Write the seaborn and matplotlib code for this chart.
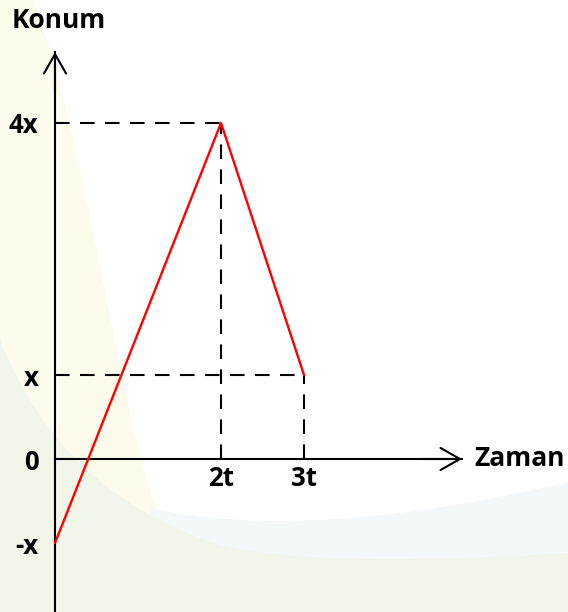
import numpy as np
import pandas as pd
import matplotlib
matplotlib.use("Agg")
import matplotlib.pyplot as plt
from matplotlib.path import Path
from matplotlib.patches import PathPatch
import seaborn as sns

# data: position vs time
times = [0, 2, 3]
positions = [-1, 4, 1]
time_labels = ["2t", "3t"]
pos_ticks = [4, 1, 0, -1]
pos_labels = ["4x", "x", "0", "-x"]

sns.set_style("white")
plt.rcParams['font.family'] = ['Open Sans', 'DejaVu Sans']
plt.rcParams['text.color'] = 'black'
plt.rcParams['xtick.color'] = 'black'
plt.rcParams['ytick.color'] = 'black'

W, H = 568, 612
fig = plt.figure(figsize=(W / 100, H / 100), dpi=100)

# faint decorative background
bg = fig.add_axes([0, 0, 1, 1], zorder=0)
bg.set_xlim(0, W)
bg.set_ylim(H, 0)
bg.axis("off")
M, L, C, Z = Path.MOVETO, Path.LINETO, Path.CURVE4, Path.CLOSEPOLY

def blob(verts, codes, color):
    bg.add_patch(PathPatch(Path(verts, codes), facecolor=color, lw=0))

blob([(0, 0), (33, 0), (90, 150), (115, 400), (160, 520), (190, 560), (300, 565),
      (568, 560), (568, 612), (0, 612), (0, 0)],
     [M, L, C, C, C, C, C, C, L, L, Z], "#fdfbec")
blob([(150, 508), (250, 532), (400, 522), (568, 482), (568, 612), (150, 612), (150, 508)],
     [M, C, C, C, L, L, Z], "#f3f8fa")
blob([(0, 340), (40, 440), (110, 510), (220, 545), (300, 565), (450, 560), (568, 553),
      (568, 612), (0, 612), (0, 340)],
     [M, C, C, C, C, C, C, L, L, Z], "#f2f6ea")

# main axes: pixel -> data mapping
x0, px_t = 55, 83
y0, px_x = 459, 84
ax = fig.add_axes([0, 0, 1, 1], zorder=1)
ax.patch.set_alpha(0)
ax.set_xlim(-x0 / px_t, (W - x0) / px_t)
ax.set_ylim((y0 - H) / px_x, y0 / px_x)

df = pd.DataFrame({"Zaman": times, "Konum": positions})

# dashed guides
for t, p in zip(times[1:], positions[1:]):
    ax.hlines(p, 0, t, colors="black", lw=1.5, linestyles=(0, (7, 5)), zorder=2)
    ax.vlines(t, 0, p, colors="black", lw=1.5, linestyles=(0, (7, 5)), zorder=2)

sns.lineplot(data=df, x="Zaman", y="Konum", color="red", lw=1.7, ax=ax,
             sort=False, estimator=None, zorder=3)

# axes with arrows
for s in ["top", "right"]:
    ax.spines[s].set_visible(False)
ax.spines["left"].set_position(("data", 0))
ax.spines["bottom"].set_position(("data", 0))
y_top = (y0 - 52) / px_x
x_end = (462 - x0) / px_t
ax.spines["left"].set_bounds((y0 - H) / px_x, y_top)
ax.spines["bottom"].set_bounds(0, x_end)
for s in ["left", "bottom"]:
    ax.spines[s].set_color("black")
    ax.spines[s].set_linewidth(1.5)
arrow = dict(arrowstyle="->,head_length=1.4,head_width=0.8", lw=1.5,
             color="black", shrinkA=0, shrinkB=0)
ax.annotate("", xy=(0, y_top), xytext=(0, y_top - 0.5), arrowprops=arrow)
ax.annotate("", xy=(x_end, 0), xytext=(x_end - 0.5, 0), arrowprops=arrow)

ax.set_xticks(times[1:], time_labels)
ax.set_yticks(pos_ticks, pos_labels)
ax.tick_params(axis="both", length=0, labelsize=18.5)
ax.tick_params(axis="y", pad=12)
ax.tick_params(axis="x", pad=4)
for lab in ax.get_xticklabels() + ax.get_yticklabels():
    lab.set_fontweight("bold")
ax.set_xlabel("")
ax.set_ylabel("")
ax.grid(False)

fig.text(12 / W, 1 - 20 / H, "Konum", fontsize=19, fontweight="bold",
         ha="left", va="center")
fig.text(474 / W, 1 - y0 / H, "Zaman", fontsize=19, fontweight="bold",
         ha="left", va="center")

fig.savefig("out.png", dpi=100)
